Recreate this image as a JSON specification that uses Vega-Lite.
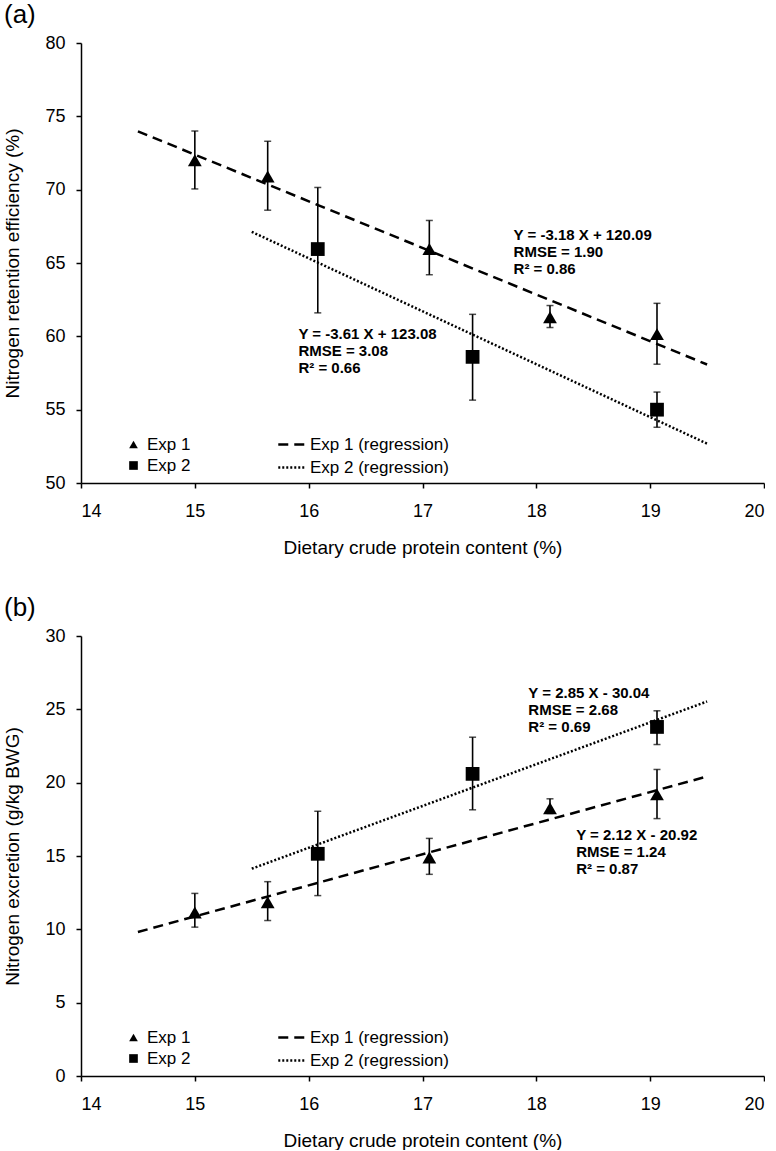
{
  "$schema": "https://vega.github.io/schema/vega-lite/v6.json",
  "padding": {"left": 3, "top": 2, "right": 0, "bottom": 0},
  "background": "white",
  "config": {
    "font": "Liberation Sans",
    "view": {"stroke": null},
    "axis": {
      "grid": false,
      "domainColor": "#000000",
      "domainWidth": 1.5,
      "tickColor": "#000000",
      "tickWidth": 1.5,
      "tickSize": 5,
      "labelFontSize": 18,
      "labelColor": "#000000",
      "titleFontSize": 19,
      "titleFontWeight": "normal",
      "titleColor": "#000000"
    },
    "axisX": {"labelPadding": 14, "titlePadding": 18, "format": "d"},
    "axisY": {"labelPadding": 11, "titlePadding": 22},
    "title": {"fontSize": 26, "fontWeight": "normal", "anchor": "start", "frame": "bounds", "offset": 6, "color": "#000000"},
    "concat": {"spacing": 38}
  },
  "datasets": {
    "points": [
      {"panel": "a", "exp": "Exp 1", "cp": 15.00, "val": 72.0, "lo": 70.05, "hi": 74.0},
      {"panel": "a", "exp": "Exp 1", "cp": 15.64, "val": 70.9, "lo": 68.6, "hi": 73.3},
      {"panel": "a", "exp": "Exp 1", "cp": 17.06, "val": 65.95, "lo": 64.2, "hi": 67.9},
      {"panel": "a", "exp": "Exp 1", "cp": 18.12, "val": 61.3, "lo": 60.6, "hi": 62.1},
      {"panel": "a", "exp": "Exp 1", "cp": 19.06, "val": 60.15, "lo": 58.1, "hi": 62.25},
      {"panel": "a", "exp": "Exp 2", "cp": 16.08, "val": 65.95, "lo": 61.6, "hi": 70.15},
      {"panel": "a", "exp": "Exp 2", "cp": 17.44, "val": 58.6, "lo": 55.65, "hi": 61.5},
      {"panel": "a", "exp": "Exp 2", "cp": 19.06, "val": 55.0, "lo": 53.8, "hi": 56.2},
      {"panel": "b", "exp": "Exp 1", "cp": 15.00, "val": 11.15, "lo": 10.15, "hi": 12.45},
      {"panel": "b", "exp": "Exp 1", "cp": 15.64, "val": 11.85, "lo": 10.6, "hi": 13.25},
      {"panel": "b", "exp": "Exp 1", "cp": 17.06, "val": 14.9, "lo": 13.75, "hi": 16.2},
      {"panel": "b", "exp": "Exp 1", "cp": 18.12, "val": 18.25, "lo": 17.9, "hi": 18.9},
      {"panel": "b", "exp": "Exp 1", "cp": 19.06, "val": 19.2, "lo": 17.55, "hi": 20.9},
      {"panel": "b", "exp": "Exp 2", "cp": 16.08, "val": 15.15, "lo": 12.3, "hi": 18.05},
      {"panel": "b", "exp": "Exp 2", "cp": 17.44, "val": 20.6, "lo": 18.15, "hi": 23.1},
      {"panel": "b", "exp": "Exp 2", "cp": 19.06, "val": 23.8, "lo": 22.6, "hi": 24.9}
    ],
    "lines": [
      {"panel": "a", "reg": "Exp 1 (regression)", "cp": 14.5, "val": 73.98},
      {"panel": "a", "reg": "Exp 1 (regression)", "cp": 19.5, "val": 58.08},
      {"panel": "a", "reg": "Exp 2 (regression)", "cp": 15.5, "val": 67.125},
      {"panel": "a", "reg": "Exp 2 (regression)", "cp": 19.5, "val": 52.685},
      {"panel": "b", "reg": "Exp 1 (regression)", "cp": 14.5, "val": 9.82},
      {"panel": "b", "reg": "Exp 1 (regression)", "cp": 19.5, "val": 20.42},
      {"panel": "b", "reg": "Exp 2 (regression)", "cp": 15.5, "val": 14.135},
      {"panel": "b", "reg": "Exp 2 (regression)", "cp": 19.5, "val": 25.535}
    ],
    "notes": [
      {"panel": "a", "cp": 17.80, "val": 66.56, "label": ["Y = -3.18 X + 120.09", "RMSE = 1.90", "R² = 0.86"]},
      {"panel": "a", "cp": 15.91, "val": 59.8, "label": ["Y = -3.61 X + 123.08", "RMSE = 3.08", "R² = 0.66"]},
      {"panel": "b", "cp": 17.93, "val": 25.75, "label": ["Y = 2.85 X - 30.04", "RMSE = 2.68", "R² = 0.69"]},
      {"panel": "b", "cp": 18.35, "val": 16.11, "label": ["Y = 2.12 X - 20.92", "RMSE = 1.24", "R² = 0.87"]}
    ]
  },
  "resolve": {
    "scale": {"shape": "independent", "strokeDash": "independent"},
    "legend": {"shape": "independent", "strokeDash": "independent"}
  },
  "vconcat": [
    {
      "title": {"text": "(a)"},
      "width": 683,
      "height": 440,
      "layer": [
        {
          "data": {"name": "lines"},
          "transform": [{"filter": "datum.panel === 'a'"}],
          "mark": {"type": "line", "color": "#000000", "strokeWidth": 2.5},
          "encoding": {
            "x": {"field": "cp", "type": "quantitative", "scale": {"domain": [14, 20], "nice": false}, "axis": {"values": [14, 15, 16, 17, 18, 19, 20], "title": "Dietary crude protein content (%)"}},
            "y": {"field": "val", "type": "quantitative", "scale": {"domain": [50, 80], "nice": false, "zero": false}, "axis": {"values": [50, 55, 60, 65, 70, 75, 80], "title": "Nitrogen retention efficiency (%)"}},
            "strokeDash": {"field": "reg", "type": "nominal", "scale": {"domain": ["Exp 1 (regression)", "Exp 2 (regression)"], "range": [[10, 6], [2, 2]]},
              "legend": {"orient": "none", "legendX": 196, "legendY": 387, "title": null, "symbolSize": 700, "symbolStrokeWidth": 2.5, "symbolStrokeColor": "#000000", "labelFontSize": 17, "labelColor": "#000000", "rowPadding": 0, "labelOffset": 4, "padding": 0}}
          }
        },
        {
          "data": {"name": "points"},
          "transform": [{"filter": "datum.panel === 'a'"}],
          "mark": {"type": "rule", "color": "#000000", "strokeWidth": 1.6},
          "encoding": {
            "x": {"field": "cp", "type": "quantitative"},
            "y": {"field": "lo", "type": "quantitative"},
            "y2": {"field": "hi"}
          }
        },
        {
          "data": {"name": "points"},
          "transform": [{"filter": "datum.panel === 'a'"}],
          "mark": {"type": "tick", "orient": "horizontal", "color": "#000000", "size": 7, "thickness": 1.5},
          "encoding": {
            "x": {"field": "cp", "type": "quantitative"},
            "y": {"field": "lo", "type": "quantitative"}
          }
        },
        {
          "data": {"name": "points"},
          "transform": [{"filter": "datum.panel === 'a'"}],
          "mark": {"type": "tick", "orient": "horizontal", "color": "#000000", "size": 7, "thickness": 1.5},
          "encoding": {
            "x": {"field": "cp", "type": "quantitative"},
            "y": {"field": "hi", "type": "quantitative"}
          }
        },
        {
          "data": {"name": "points"},
          "transform": [{"filter": "datum.panel === 'a'"}],
          "mark": {"type": "point", "filled": true, "color": "#000000", "opacity": 1, "size": 190},
          "encoding": {
            "x": {"field": "cp", "type": "quantitative"},
            "y": {"field": "val", "type": "quantitative"},
            "shape": {"field": "exp", "type": "nominal", "scale": {"domain": ["Exp 1", "Exp 2"], "range": ["triangle-up", "square"]},
              "legend": {"orient": "none", "legendX": 44, "legendY": 393, "title": null, "symbolSize": 75, "symbolFillColor": "#000000", "symbolStrokeColor": "#000000", "symbolOpacity": 1, "labelFontSize": 17, "labelColor": "#000000", "rowPadding": 3, "labelOffset": 5, "padding": 0}}
          }
        },
        {
          "data": {"name": "notes"},
          "transform": [{"filter": "datum.panel === 'a'"}],
          "mark": {"type": "text", "align": "left", "baseline": "alphabetic", "fontSize": 15, "fontWeight": "bold", "lineHeight": 17, "color": "#000000"},
          "encoding": {
            "x": {"field": "cp", "type": "quantitative"},
            "y": {"field": "val", "type": "quantitative"},
            "text": {"field": "label"}
          }
        }
      ]
    },
    {
      "title": {"text": "(b)"},
      "width": 683,
      "height": 440,
      "layer": [
        {
          "data": {"name": "lines"},
          "transform": [{"filter": "datum.panel === 'b'"}],
          "mark": {"type": "line", "color": "#000000", "strokeWidth": 2.5},
          "encoding": {
            "x": {"field": "cp", "type": "quantitative", "scale": {"domain": [14, 20], "nice": false}, "axis": {"values": [14, 15, 16, 17, 18, 19, 20], "title": "Dietary crude protein content (%)"}},
            "y": {"field": "val", "type": "quantitative", "scale": {"domain": [0, 30], "nice": false}, "axis": {"values": [0, 5, 10, 15, 20, 25, 30], "title": "Nitrogen excretion (g/kg BWG)"}},
            "strokeDash": {"field": "reg", "type": "nominal", "scale": {"domain": ["Exp 1 (regression)", "Exp 2 (regression)"], "range": [[10, 6], [2, 2]]},
              "legend": {"orient": "none", "legendX": 196, "legendY": 387, "title": null, "symbolSize": 700, "symbolStrokeWidth": 2.5, "symbolStrokeColor": "#000000", "labelFontSize": 17, "labelColor": "#000000", "rowPadding": 0, "labelOffset": 4, "padding": 0}}
          }
        },
        {
          "data": {"name": "points"},
          "transform": [{"filter": "datum.panel === 'b'"}],
          "mark": {"type": "rule", "color": "#000000", "strokeWidth": 1.6},
          "encoding": {
            "x": {"field": "cp", "type": "quantitative"},
            "y": {"field": "lo", "type": "quantitative"},
            "y2": {"field": "hi"}
          }
        },
        {
          "data": {"name": "points"},
          "transform": [{"filter": "datum.panel === 'b'"}],
          "mark": {"type": "tick", "orient": "horizontal", "color": "#000000", "size": 7, "thickness": 1.5},
          "encoding": {
            "x": {"field": "cp", "type": "quantitative"},
            "y": {"field": "lo", "type": "quantitative"}
          }
        },
        {
          "data": {"name": "points"},
          "transform": [{"filter": "datum.panel === 'b'"}],
          "mark": {"type": "tick", "orient": "horizontal", "color": "#000000", "size": 7, "thickness": 1.5},
          "encoding": {
            "x": {"field": "cp", "type": "quantitative"},
            "y": {"field": "hi", "type": "quantitative"}
          }
        },
        {
          "data": {"name": "points"},
          "transform": [{"filter": "datum.panel === 'b'"}],
          "mark": {"type": "point", "filled": true, "color": "#000000", "opacity": 1, "size": 190},
          "encoding": {
            "x": {"field": "cp", "type": "quantitative"},
            "y": {"field": "val", "type": "quantitative"},
            "shape": {"field": "exp", "type": "nominal", "scale": {"domain": ["Exp 1", "Exp 2"], "range": ["triangle-up", "square"]},
              "legend": {"orient": "none", "legendX": 44, "legendY": 393, "title": null, "symbolSize": 75, "symbolFillColor": "#000000", "symbolStrokeColor": "#000000", "symbolOpacity": 1, "labelFontSize": 17, "labelColor": "#000000", "rowPadding": 3, "labelOffset": 5, "padding": 0}}
          }
        },
        {
          "data": {"name": "notes"},
          "transform": [{"filter": "datum.panel === 'b'"}],
          "mark": {"type": "text", "align": "left", "baseline": "alphabetic", "fontSize": 15, "fontWeight": "bold", "lineHeight": 17, "color": "#000000"},
          "encoding": {
            "x": {"field": "cp", "type": "quantitative"},
            "y": {"field": "val", "type": "quantitative"},
            "text": {"field": "label"}
          }
        }
      ]
    }
  ]
}
